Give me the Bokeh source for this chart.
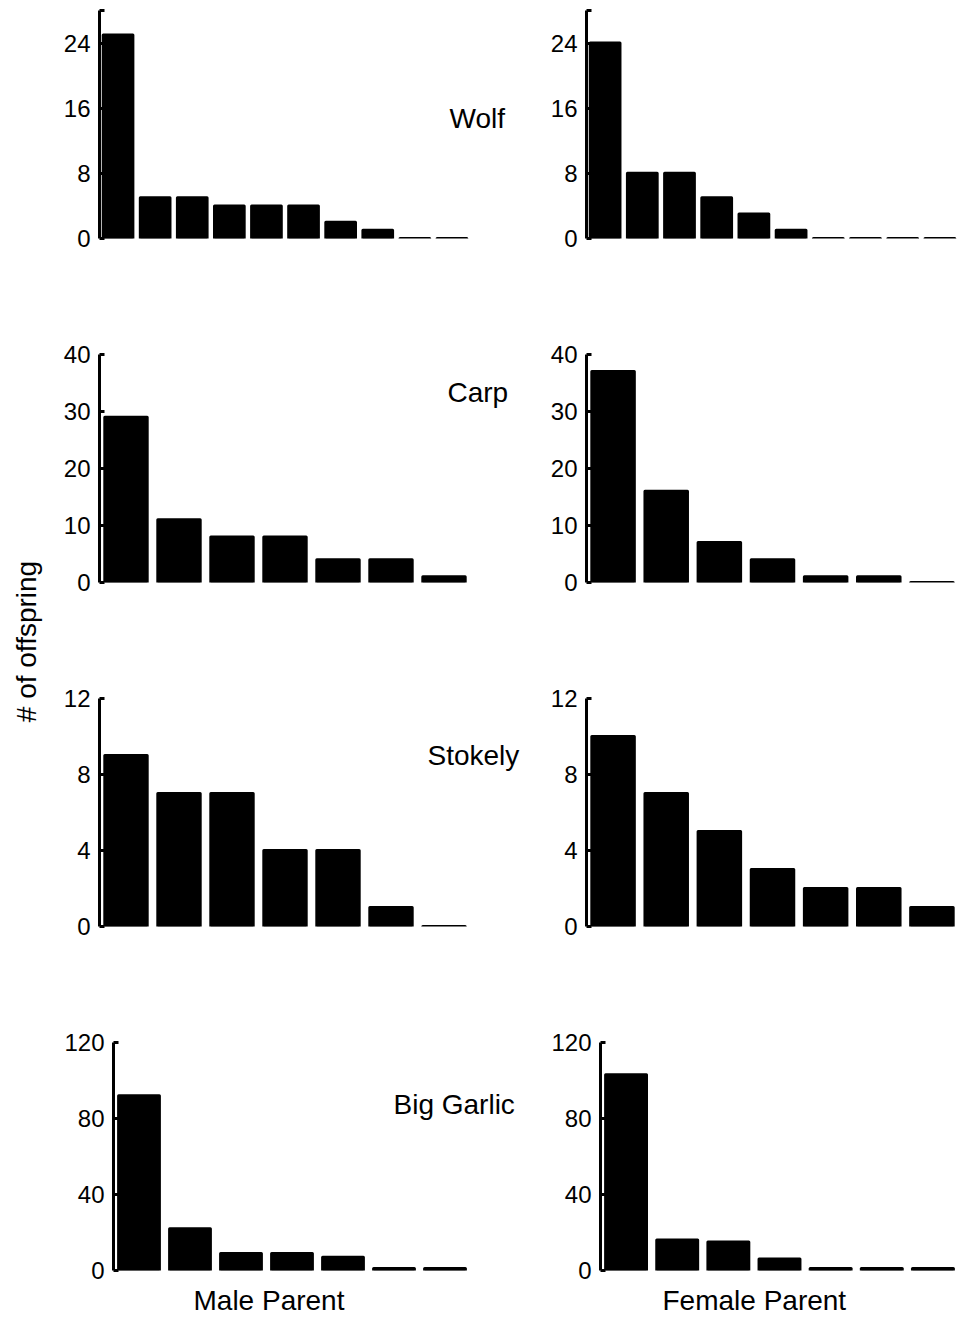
import math
from bokeh.plotting import figure
from bokeh.layouts import row, column
from bokeh.models import Label, FixedTicker, Range1d, Title
from bokeh.embed import file_html
from bokeh.resources import INLINE

FONT = "Liberation Sans"

# ---- data ----
species = ["Wolf", "Carp", "Stokely", "Big Garlic"]
wolf_male = [25, 5, 5, 4, 4, 4, 2, 1, 0, 0]
wolf_female = [24, 8, 8, 5, 3, 1, 0, 0, 0, 0]
carp_male = [29, 11, 8, 8, 4, 4, 1]
carp_female = [37, 16, 7, 4, 1, 1, 0]
stokely_male = [9, 7, 7, 4, 4, 1, 0]
stokely_female = [10, 7, 5, 3, 2, 2, 1]
garlic_male = [92, 22, 9, 9, 7, 1, 1]
garlic_female = [103, 16, 15, 6, 1, 1, 1]
male_series = [wolf_male, carp_male, stokely_male, garlic_male]
female_series = [wolf_female, carp_female, stokely_female, garlic_female]
y_max = [28, 40, 12, 120]
y_ticks = [[0, 8, 16, 24, 28], [0, 10, 20, 30, 40], [0, 4, 8, 12], [0, 40, 80, 120]]
y_tick_labels = [["0", "8", "16", "24", ""], ["0", "10", "20", "30", "40"],
                 ["0", "4", "8", "12"], ["0", "40", "80", "120"]]
x_titles = ["Male Parent", "Female Parent"]
y_title = "# of offspring"

# ---- layout constants (pixels) ----
ROW_H = [334, 344, 344, 307]
TOP = [10, 20, 20, 20]
BOTTOM = [96, 96, 96, 59]
LABEL_W = 50
LEFT_W = 490
RIGHT_W = 423
LEFT_BORDER = [49, 49, 49, 63]
LEFT_BARS_W = [371, 371, 371, 357]   # width holding the bars
LEFT_EXTRA = 60                      # room to the right for the species name
RIGHT_BORDER = [46, 46, 46, 60]
RIGHT_BARS_W = [372, 372, 372, 358]
name_pos = [(350, 120), (348, 190), (328, 171), (280, 166)]


def panel(values, ymax, ticks, labels, width, height, bl, bars_w, extra, top, bottom):
    n = len(values)
    xs = list(range(1, n + 1))
    frame_w = bars_w + extra
    x_end = 0.5 + n * frame_w / bars_w
    p = figure(width=width, height=height,
               x_range=Range1d(0.5, x_end), y_range=Range1d(0, ymax),
               output_backend="svg", toolbar_location=None,
               min_border_left=bl, min_border_right=width - bl - frame_w,
               min_border_top=top, min_border_bottom=bottom)
    p.vbar(x=xs, top=values, bottom=0, width=0.8,
           fill_color="black", line_color="black", line_width=3,
           line_join="round")
    p.xaxis.visible = False
    p.xgrid.visible = False
    p.ygrid.visible = False
    p.outline_line_color = None
    ax = p.yaxis[0]
    ax.ticker = FixedTicker(ticks=ticks)
    ax.major_label_overrides = {t: l for t, l in zip(ticks, labels)}
    ax.major_label_text_font = FONT
    ax.major_label_text_font_size = "24px"
    ax.major_label_text_color = "black"
    ax.major_label_standoff = 9
    ax.axis_line_color = "black"
    ax.axis_line_width = 3
    ax.major_tick_line_color = "black"
    ax.major_tick_line_width = 3
    ax.major_tick_in = 5
    ax.major_tick_out = 0
    ax.minor_tick_line_color = None
    return p


rows = []
for i in range(4):
    pl = panel(male_series[i], y_max[i], y_ticks[i], y_tick_labels[i],
               LEFT_W, ROW_H[i], LEFT_BORDER[i], LEFT_BARS_W[i], LEFT_EXTRA,
               TOP[i], BOTTOM[i])
    nx, ny = name_pos[i]
    pl.add_layout(Label(x=nx, y=ny, x_units="screen", y_units="screen",
                        text=species[i], text_font=FONT, text_font_size="28px",
                        text_color="black", text_align="left",
                        text_baseline="middle"))
    pr = panel(female_series[i], y_max[i], y_ticks[i], y_tick_labels[i],
               RIGHT_W, ROW_H[i], RIGHT_BORDER[i], RIGHT_BARS_W[i], 0,
               TOP[i], BOTTOM[i])
    if i == 3:
        pl.add_layout(Title(text=x_titles[0], align="left", offset=80,
                            text_font=FONT, text_font_size="28px",
                            text_font_style="normal", text_color="black",
                            standoff=25), "below")
        pr.add_layout(Title(text=x_titles[1], align="left", offset=62,
                            text_font=FONT, text_font_size="28px",
                            text_font_style="normal", text_color="black",
                            standoff=25), "below")
    rows.append(row(pl, pr, spacing=0))

lab = figure(width=LABEL_W, height=1329, x_axis_type=None, y_axis_type=None,
             output_backend="svg", toolbar_location=None, min_border=0,
             x_range=Range1d(0, 1), y_range=Range1d(0, 1))
lab.outline_line_color = None
lab.xgrid.visible = False
lab.ygrid.visible = False
lab.add_layout(Label(x=26, y=688, x_units="screen", y_units="screen",
                     text=y_title, angle=math.pi / 2, text_font=FONT,
                     text_font_size="28px", text_color="black",
                     text_align="center", text_baseline="middle"))

layout = row(lab, column(*rows, spacing=0), spacing=0)

open("out.html", "w").write(file_html(layout, INLINE))
